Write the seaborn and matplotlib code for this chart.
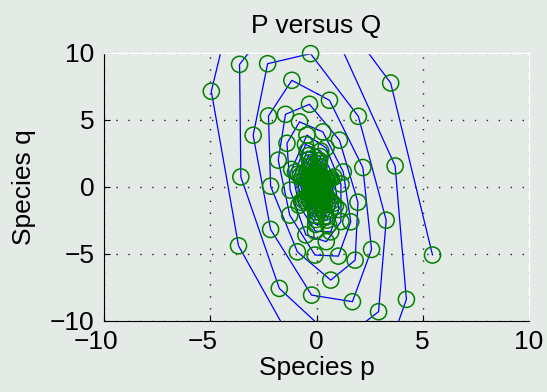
import matplotlib
matplotlib.use("Agg")
import matplotlib.pyplot as plt
import matplotlib.transforms as mtransforms
import numpy as np
import pandas as pd
import seaborn as sns

# Trajectory of species p and q (in time order)
p_center = [0.02, 0.06, 0.08, 0.03, -0.05, -0.09, -0.07]
q_center = [0.05, 0.22, -0.05, -0.30, -0.22, 0.05, 0.35]

# dense inner spiral (estimated, the markers overlap into one blob there)
p_inner = [-0.06, 0.02, 0.10, 0.13, 0.08, -0.01, -0.10, -0.14,
           -0.09, 0.03, 0.14, 0.18, 0.11, -0.01, -0.14, -0.20,
           -0.11, 0.04, 0.18, 0.23, 0.14, -0.01, -0.18, -0.25,
           -0.14, 0.05, 0.21, 0.27, 0.18, -0.01, -0.21, -0.31,
           -0.16, 0.06, 0.25, 0.32, 0.21, -0.01, -0.25, -0.36,
           -0.19, 0.07, 0.30, 0.39, 0.25, -0.02, -0.30, -0.43,
           -0.22, 0.08, 0.35, 0.45, 0.29, -0.02, -0.35, -0.50,
           -0.26, 0.10, 0.40, 0.52, 0.33, -0.02, -0.40, -0.58,
           -0.30, 0.11, 0.47, 0.60, 0.38, -0.03, -0.47, -0.67,
           -0.34, 0.13, 0.53, 0.68, 0.43, -0.03, -0.53, -0.76,
           -0.38, 0.14, 0.60, 0.77, 0.49, -0.03, -0.60, -0.86,
           -0.44, 0.17, 0.69, 0.89, 0.57, -0.04, -0.69, -0.99,
           -0.52, 0.20, 0.82, 1.05, 0.67, -0.05, -0.82, -1.17,
           -0.45, 0.45, 1.15, 1.15, 0.46, -0.50, -1.24, -1.39]
q_inner = [0.39, 0.33, 0.09, -0.21, -0.41, -0.41, -0.17, 0.16,
           0.53, 0.45, 0.12, -0.29, -0.57, -0.56, -0.23, 0.22,
           0.68, 0.57, 0.15, -0.37, -0.73, -0.71, -0.30, 0.28,
           0.82, 0.70, 0.19, -0.45, -0.88, -0.87, -0.36, 0.34,
           0.97, 0.82, 0.22, -0.52, -1.04, -1.02, -0.42, 0.40,
           1.16, 0.98, 0.26, -0.63, -1.24, -1.22, -0.51, 0.48,
           1.36, 1.15, 0.31, -0.73, -1.45, -1.43, -0.59, 0.55,
           1.55, 1.31, 0.35, -0.84, -1.66, -1.63, -0.68, 0.63,
           1.79, 1.51, 0.41, -0.97, -1.92, -1.89, -0.78, 0.73,
           2.03, 1.72, 0.46, -1.10, -2.18, -2.14, -0.89, 0.83,
           2.32, 1.96, 0.53, -1.26, -2.49, -2.45, -1.02, 0.95,
           2.66, 2.25, 0.61, -1.44, -2.85, -2.81, -1.17, 1.09,
           3.15, 2.66, 0.72, -1.70, -3.37, -3.32, -1.38, 1.29,
           3.85, 2.90, 0.20, -2.60, -4.10, -3.60, -0.25, 3.24]

p_outer = [-0.80, 0.30, 1.26, 1.61, 1.03, -0.07, -1.26, -1.80,
           -1.46, -0.33, 1.08, 1.95, 1.82, 0.67, -0.90, -2.16,
           -2.26, -1.16, 0.61, 2.18, 2.59, 1.69, -0.23, -2.16,
           -2.98, -2.30, -0.28, 1.97, 3.28, 2.92, 1.02, -1.75,
           -3.56, -3.62, -0.35, 3.70, 4.23, 1.71, -3.67,
           -4.95, -2.80, 3.49, 5.46]
q_outer = [4.84, 4.09, 1.10, -2.62, -5.18, -5.10, -2.12, 1.98,
           5.40, 6.15, 3.47, -1.16, -5.48, -6.97, -4.86, 0.04,
           5.28, 7.94, 6.45, 1.43, -4.68, -8.58, -8.09, -3.19,
           3.84, 9.18, 9.93, 5.25, -2.50, -9.33, -11.65, -7.59,
           0.73, 9.13, 15.70, 1.55, -8.41, -19.70, -4.41,
           7.12, 21.20, 7.74, -5.10]

x_ticks = [-10, -5, 0, 5, 10]
y_ticks = [-10, -5, 0, 5, 10]

sns.set_theme(style="white")
plt.rcParams["font.family"] = ["Liberation Sans", "DejaVu Sans"]

fs = 19
bg = "#e4ebe7"
fig = plt.figure(figsize=(5.47, 3.92), dpi=100, facecolor=bg)
ax = fig.add_axes([104 / 547, 1 - 320.7 / 392, 425 / 547, 268 / 392])
ax.set_facecolor(bg)

df = pd.DataFrame({"p": p_center + p_inner + p_outer,
                   "q": q_center + q_inner + q_outer})
df["t"] = np.arange(len(df))

sns.lineplot(data=df, x="p", y="q", sort=False, estimator=None,
             color="#0000ff", linewidth=0.9, ax=ax, zorder=2)

inside = df[(df["p"].abs() <= 10.5) & (df["q"].abs() <= 10.5)]
sns.scatterplot(data=inside, x="p", y="q", marker="o", s=135,
                color="#008000", facecolor="none", edgecolor="#008000",
                linewidth=1.1, ax=ax, zorder=3, clip_on=False)

ax.set_xlim(-10, 10)
ax.set_ylim(-10, 10)
ax.set_xticks(x_ticks)
ax.set_yticks(y_ticks)

ax.grid(True, color="#222222", linestyle=(0, (1, 7.6)), linewidth=1.0)
ax.set_axisbelow(True)

for s in ["left", "bottom"]:
    ax.spines[s].set_color("black")
    ax.spines[s].set_linewidth(0.8)
for s in ["top", "right"]:
    ax.spines[s].set_color("white")
    ax.spines[s].set_linewidth(1.0)

ax.tick_params(axis="both", direction="in", length=4, width=0.8,
               colors="black", labelsize=fs, pad=7,
               bottom=True, left=True, top=False, right=False)

# digits centred on the tick, minus sign hanging to the left
shift = mtransforms.ScaledTranslation(-8 / 100, 0, fig.dpi_scale_trans)
for val, lab in zip(x_ticks, ax.get_xticklabels()):
    if val < 0:
        lab.set_transform(lab.get_transform() + shift)

ax.set_title("P versus Q", fontsize=fs, pad=14, color="black")
ax.set_xlabel("Species p", fontsize=fs, labelpad=1, color="black")
ax.set_ylabel("Species q", fontsize=fs, labelpad=10, color="black")

fig.savefig("out.png", dpi=100, facecolor=bg)
